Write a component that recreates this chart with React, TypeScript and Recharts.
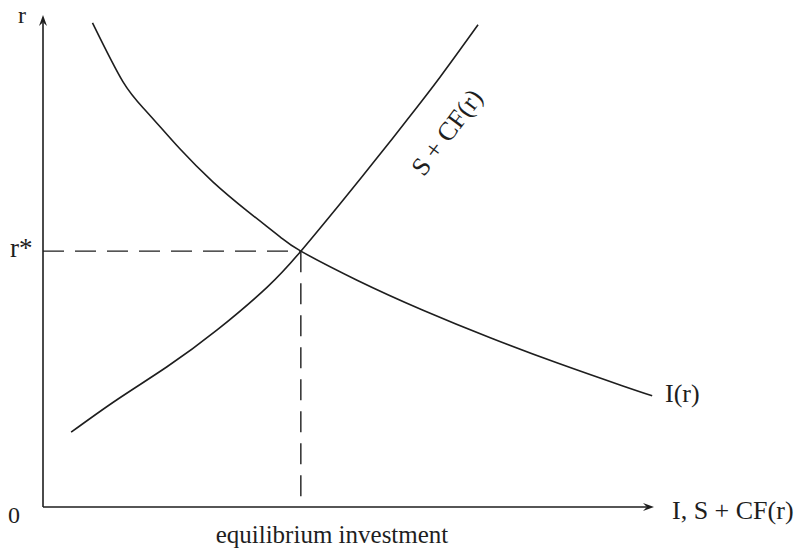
import { ComposedChart, Line, XAxis, YAxis, ReferenceLine } from "recharts";

// I(r): investment demand, falling in r
const investmentCurve = [
  { x: 8.1, y: 98.4 },
  { x: 13.1, y: 86.4 },
  { x: 17.0, y: 80.3 },
  { x: 22.4, y: 72.8 },
  { x: 27.8, y: 66.1 },
  { x: 33.4, y: 60.2 },
  { x: 38.8, y: 54.9 },
  { x: 42.2, y: 52.0 },
  { x: 51.4, y: 46.1 },
  { x: 62.2, y: 40.0 },
  { x: 73.2, y: 34.4 },
  { x: 84.1, y: 29.3 },
  { x: 94.9, y: 24.6 },
  { x: 99.7, y: 22.6 },
];

// S + CF(r): savings plus capital flows, rising in r
const savingsCurve = [
  { x: 4.6, y: 15.2 },
  { x: 12.1, y: 21.8 },
  { x: 20.3, y: 28.5 },
  { x: 28.5, y: 36.0 },
  { x: 36.7, y: 44.7 },
  { x: 42.2, y: 52.0 },
  { x: 48.6, y: 61.6 },
  { x: 54.0, y: 69.9 },
  { x: 59.6, y: 78.7 },
  { x: 65.0, y: 87.4 },
  { x: 71.2, y: 98.0 },
];

const equilibrium = { x: 42.2, y: 52.0 };
const axisMax = 100;

const INK = "#1e1e1e";
const FONT = "'Liberation Serif', 'DejaVu Serif', serif";

function ArrowLine(props: any) {
  const { x1, y1, x2, y2 } = props;
  const a = Math.atan2(y2 - y1, x2 - x1);
  const cos = Math.cos(a);
  const sin = Math.sin(a);
  const len = 11;
  const half = 4;
  const bx = x2 - len * cos;
  const by = y2 - len * sin;
  const nx = x2 - 0.65 * len * cos;
  const ny = y2 - 0.65 * len * sin;
  return (
    <g>
      <line x1={x1} y1={y1} x2={nx} y2={ny} stroke={INK} strokeWidth={1.6} />
      <path
        d={`M${x2},${y2} L${bx + half * sin},${by - half * cos} L${nx},${ny} L${bx - half * sin},${by + half * cos} Z`}
        fill={INK}
      />
    </g>
  );
}

export default function App() {
  return (
    <div style={{ position: "absolute", left: 0, top: 0, background: "#fff" }}>
      <ComposedChart width={810} height={549} margin={{ top: 15, right: 156, bottom: 42, left: 43 }}>
        <XAxis type="number" dataKey="x" domain={[0, axisMax]} hide />
        <YAxis type="number" dataKey="y" domain={[0, axisMax]} hide />

        <ReferenceLine
          segment={[{ x: 0, y: 0 }, { x: 0, y: axisMax }]}
          ifOverflow="visible"
          shape={ArrowLine}
        />
        <ReferenceLine
          segment={[{ x: 0, y: 0 }, { x: axisMax, y: 0 }]}
          ifOverflow="visible"
          shape={ArrowLine}
        />
        <ReferenceLine
          segment={[{ x: 0, y: equilibrium.y }, { x: equilibrium.x, y: equilibrium.y }]}
          ifOverflow="visible"
          stroke={INK}
          strokeWidth={1.4}
          strokeDasharray="21 11"
        />
        <ReferenceLine
          segment={[{ x: equilibrium.x, y: equilibrium.y }, { x: equilibrium.x, y: 0 }]}
          ifOverflow="visible"
          stroke={INK}
          strokeWidth={1.4}
          strokeDasharray="21 11"
        />

        <Line
          data={investmentCurve}
          dataKey="y"
          type="natural"
          dot={false}
          stroke={INK}
          strokeWidth={1.6}
          isAnimationActive={false}
        />
        <Line
          data={savingsCurve}
          dataKey="y"
          type="natural"
          dot={false}
          stroke={INK}
          strokeWidth={1.6}
          isAnimationActive={false}
        />

        <text x={18} y={23} fontFamily={FONT} fontSize={24} fill={INK}>r</text>
        <text x={10} y={257} fontFamily={FONT} fontSize={27} fill={INK}>r*</text>
        <text x={8} y={523} fontFamily={FONT} fontSize={24} fill={INK}>0</text>
        <text x={672} y={519} fontFamily={FONT} fontSize={26} fill={INK}>I, S + CF(r)</text>
        <text x={665} y={402} fontFamily={FONT} fontSize={26} fill={INK}>I(r)</text>
        <text x={332} y={543} textAnchor="middle" fontFamily={FONT} fontSize={25} fill={INK}>
          equilibrium investment
        </text>
        <text
          x={449}
          y={134}
          textAnchor="middle"
          dominantBaseline="middle"
          transform="rotate(-53 449 134)"
          fontFamily={FONT}
          fontSize={26}
          fill={INK}
        >
          S + CF(r)
        </text>
      </ComposedChart>
    </div>
  );
}
